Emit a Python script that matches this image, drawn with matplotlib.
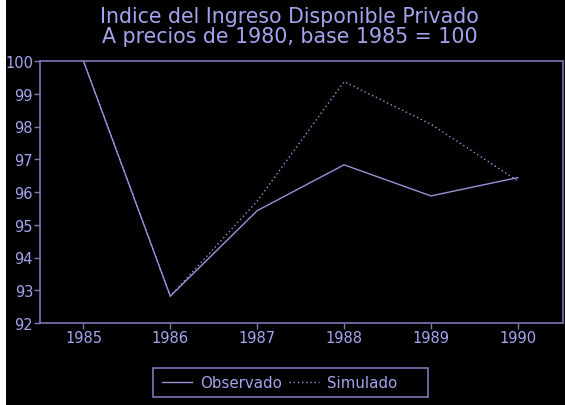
import matplotlib
matplotlib.use("Agg")
import matplotlib.pyplot as plt
from matplotlib.patches import Rectangle

years = [1985, 1986, 1987, 1988, 1989, 1990]
observado = [100.0, 92.82, 95.43, 96.83, 95.88, 96.44]
simulado = [100.0, 92.82, 95.72, 99.37, 98.07, 96.34]
yticks = [92, 93, 94, 95, 96, 97, 98, 99, 100]

txt_col = "#a4a4ee"
ax_col = "#7a7ab8"
line_col = "#9494d8"

plt.rcParams["font.family"] = ["DejaVu Sans"]

fig = plt.figure(figsize=(5.65, 4.06), dpi=100, facecolor="black")
# white strip on left edge
fig.patches.append(Rectangle((0, 0), 6 / 565, 1, transform=fig.transFigure,
                             facecolor="white", edgecolor="none", zorder=0))
# legend box, wider on the right like the original
fig.patches.append(Rectangle((153 / 565, 1 - 398 / 406), 275 / 565, 29 / 406,
                             transform=fig.transFigure, facecolor="black",
                             edgecolor=ax_col, lw=1.2, zorder=1))

ax = fig.add_axes([40 / 565, 1 - 324 / 406, 523 / 565, 262 / 406])
ax.set_facecolor("black")

ax.plot(years, observado, color=line_col, lw=1.0, label="Observado")
ax.plot(years, simulado, color=line_col, lw=1.0, ls=(0, (1, 2)), label="Simulado")

ax.set_xlim(1984.5, 1990.52)
ax.set_ylim(92, 100)
ax.set_xticks(years)
ax.set_yticks(yticks)
ax.tick_params(colors=ax_col, labelcolor=txt_col, labelsize=10.5, length=4, width=1, pad=1)
for s in ax.spines.values():
    s.set_color(ax_col)
    s.set_linewidth(1.2)

fig.text(0.513, 1 - 17 / 406, "Indice del Ingreso Disponible Privado",
         color=txt_col, fontsize=14.8, ha="center", va="center")
fig.text(0.513, 1 - 37 / 406, "A precios de 1980, base 1985 = 100",
         color=txt_col, fontsize=14.8, ha="center", va="center")

leg = fig.legend(loc="center left", bbox_to_anchor=(162 / 565, 1 - 383.5 / 406), ncol=2,
                 frameon=False, fontsize=10.8, handlelength=2.0, handletextpad=0.53,
                 columnspacing=0.47, borderpad=0, borderaxespad=0)
for t in leg.get_texts():
    t.set_color(txt_col)

fig.savefig("out.png", dpi=100, facecolor="black")
